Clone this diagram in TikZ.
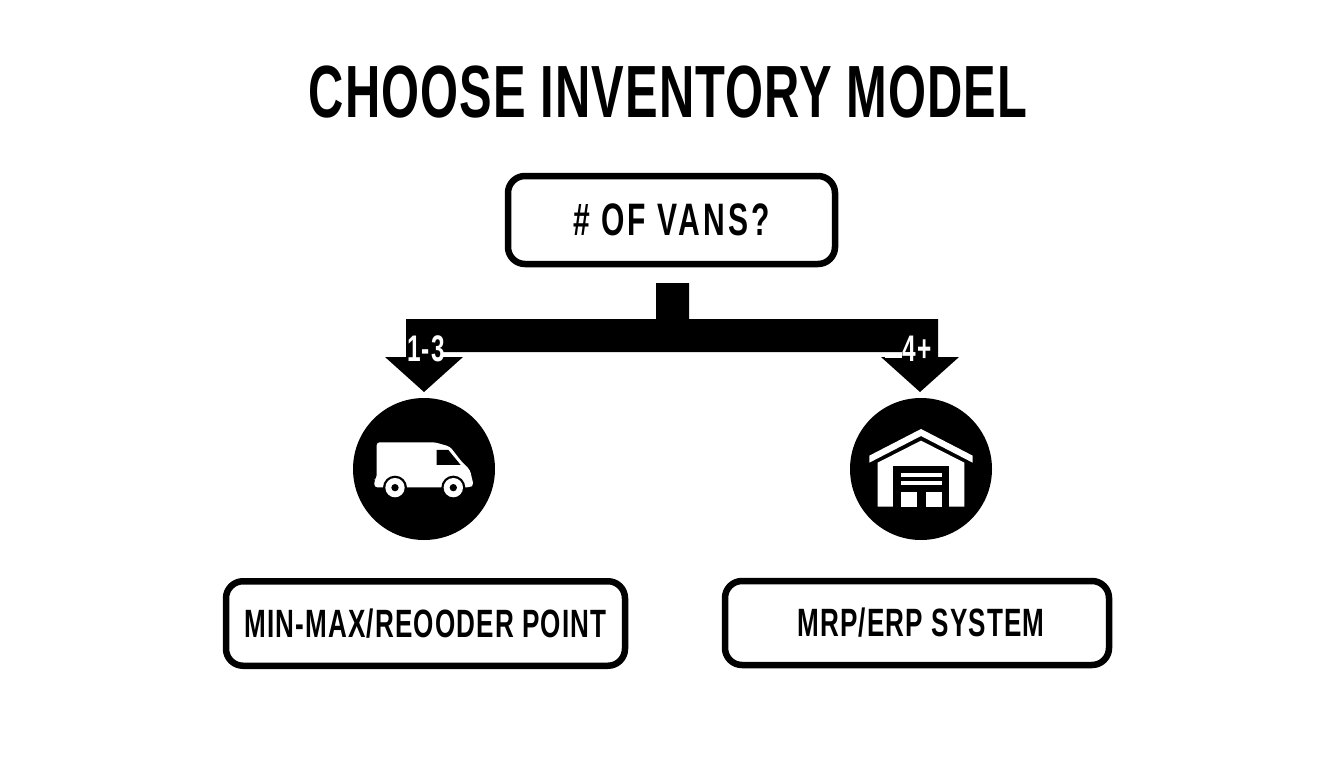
\documentclass[tikz,border=0pt]{standalone}
\usepackage{fontspec}
\setmainfont[FakeStretch=0.66,BoldFont={Liberation Sans Bold}]{Liberation Sans}
\tikzset{
  x=1pt,y=-1pt,
  lbl/.style={inner sep=0pt,font=\bfseries,text=black},
  box/.style={draw=black,line width=6.5pt,rounded corners=17pt,fill=white,inner sep=0pt},
  disc/.style={circle,fill=black,draw=none,minimum size=142pt,inner sep=0pt},
  flow/.style={fill=black,draw=none},
  icon/.style={fill=white,draw=none},
  iconcut/.style={fill=black,draw=none},
}
\begin{document}
\begin{tikzpicture}
\useasboundingbox[fill=white] (0,0) rectangle (1344,768);
% title
\node[lbl] (title) at (668,92) {\fontsize{74}{74}\selectfont\addfontfeatures{LetterSpace=1.5}CHOOSE INVENTORY MODEL};
% boxes
\node[box,minimum width=327pt,minimum height=88pt] (q) at (671.5,220) {};
\node[lbl] at (q.center) {\fontsize{45.5}{45.5}\selectfont\addfontfeatures{LetterSpace=7}\# OF VANS?};
\node[box,minimum width=399pt,minimum height=84.5pt] (a) at (425.5,623.5) {};
\node[lbl] at (a.center) {\fontsize{39.5}{39.5}\selectfont\addfontfeatures{LetterSpace=2.9}MIN-MAX/REOODER POINT};
\node[box,minimum width=384pt,minimum height=84pt] (b) at (917,623) {};
\node[lbl] at (921,623) {\fontsize{39.5}{39.5}\selectfont\addfontfeatures{LetterSpace=2.9}MRP/ERP SYSTEM};
% discs
\node[disc] (d1) at (424,469) {};
\node[disc] (d2) at (921,469) {};
% connector
\coordinate (s1) at (656,283);
\coordinate (s2) at (689,283);
\coordinate (bl) at (406,319);
\coordinate (br) at (938,319);
\coordinate (t1) at (424,392);
\coordinate (t2) at (920,392);
\fill[flow] (s1) -- (s2) -- (689,319) -- (br) -- (938,357) -- (959,357) -- (t2) -- (881,357) -- (902,357) -- (902,352)
  -- (442,352) -- (442,357) -- (463,357) -- (t1) -- (385,357) -- (406,357) -- (bl) -- (656,319) -- cycle;
\draw[white,line width=1pt] (885,357) -- (902,357);
\node[lbl,text=white] (l1) at (426,349) {\fontsize{37}{37}\selectfont\addfontfeatures{LetterSpace=3.6}1-3};
\node[lbl,text=white] (l2) at (917,349) {\fontsize{37}{37}\selectfont\addfontfeatures{LetterSpace=5}4+};
% van
\begin{scope}[shift={(340,270)},x=0.3333pt,y=-0.3333pt]
\fill[icon,rounded corners=3pt] (110,517) -- (285,517) -- (330,530) -- (365,575) -- (390,600) -- (397,630) -- (401,645) -- (390,652) -- (103,652) -- (103,630) -- (110,625) -- cycle;
\fill[iconcut] (290,540) -- (325,540) -- (362,585) -- (290,585) -- cycle;
\foreach \cx in {165,340}{
  \fill[iconcut] (\cx,653) circle (36);
  \fill[icon] (\cx,653) circle (29);
  \fill[iconcut] (\cx,653) circle (11);
}
\end{scope}
% warehouse
\begin{scope}[shift={(840,310)},x=0.3333pt,y=-0.3333pt]
\fill[icon] (88,437) -- (243,357) -- (398,437) -- (398,458) -- (243,378) -- (88,458) -- cycle;
\fill[icon] (113,458) -- (243,392) -- (373,458) -- (373,590) -- (113,590) -- cycle;
\fill[iconcut] (160,467) rectangle (328,590);
\fill[icon] (182,488) rectangle (306,500);
\fill[icon] (182,512) rectangle (306,524);
\fill[icon] (182,546) rectangle (231,590);
\fill[icon] (257,546) rectangle (306,590);
\end{scope}
\end{tikzpicture}
\end{document}
